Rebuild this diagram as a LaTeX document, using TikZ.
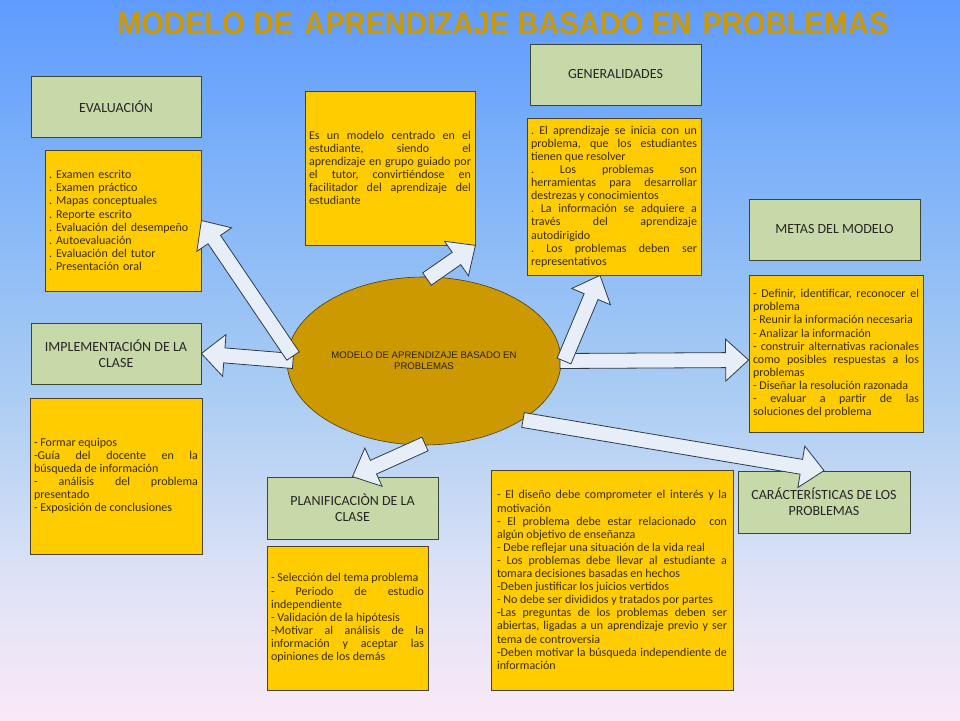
\documentclass[tikz,border=0pt]{standalone}
\usepackage{graphicx}
\usepackage{fontspec}
\setmainfont{Carlito}
\newfontfamily\arialf{Liberation Sans}
\usetikzlibrary{calc,shapes.geometric}
\setlength{\parindent}{0pt}
\frenchspacing
\definecolor{bg0}{HTML}{FAE9F7}
\definecolor{bg1}{HTML}{DDE2F6}
\definecolor{bg2}{HTML}{ABCDF3}
\definecolor{bg3}{HTML}{80B3F8}
\definecolor{bg4}{HTML}{5F9BFE}
\definecolor{titlec}{HTML}{CC9900}
\definecolor{gfill}{HTML}{C7D9A8}
\definecolor{gbord}{HTML}{3D4635}
\definecolor{gtext}{HTML}{262626}
\definecolor{yfill}{HTML}{FFCC00}
\definecolor{ybord}{HTML}{4A4228}
\definecolor{ytext}{HTML}{3A2E00}
\definecolor{ellfill}{HTML}{CC9900}
\definecolor{ellbord}{HTML}{4A3C10}
\definecolor{elltext}{HTML}{2A2200}
\definecolor{afill}{HTML}{E8EEF8}
\definecolor{abord}{HTML}{2C3A4E}
\pgfdeclareverticalshading{bgshade}{100bp}{color(0bp)=(bg0); color(25bp)=(bg0); color(35bp)=(bg1); color(47.5bp)=(bg2); color(62.5bp)=(bg3); color(75bp)=(bg4); color(100bp)=(bg4)}
\newcommand\bodyf{\fontsize{12}{13.1}\selectfont\frenchspacing\parindent=0pt\tolerance=10000\hyphenpenalty=10000\exhyphenpenalty=10000}
\newcommand\headf{\fontsize{14}{16}\selectfont}
\newcommand\blkarrow[2]{%
  \coordinate (bh) at ($(#2)!23pt!(#1)$);
  \draw[barrow] ($(#1)!7.5pt!90:(#2)$) -- ($(bh)!7.5pt!90:(#2)$) -- ($(bh)!21pt!90:(#2)$) -- (#2) -- ($(bh)!21pt!-90:(#2)$) -- ($(bh)!7.5pt!-90:(#2)$) -- ($(#1)!7.5pt!-90:(#2)$) -- cycle;}
\tikzset{
  ghead/.style={draw=gbord, fill=gfill, line width=0.8pt, align=center, text=gtext, font=\headf, inner sep=3pt},
  ybox/.style={draw=ybord, fill=yfill, line width=0.8pt, inner xsep=4pt, inner ysep=2pt, align=justify, text=ytext, font=\bodyf},
  barrow/.style={draw=abord, fill=afill, line width=0.8pt, line join=miter},
}
\begin{document}
\begin{tikzpicture}[x=1pt,y=-1pt]
\shade[shading=bgshade] (0,0) rectangle (960,720);
\useasboundingbox (0,0) rectangle (960,720);

\node[anchor=south west, inner sep=0pt, text=titlec] (title) at (117,35)
  {\resizebox{771pt}{22pt}{\arialf\bfseries MODELO DE\hspace{0.1em} APRENDIZAJE BASADO EN\hspace{0.1em} PROBLEMAS}};

% heading boxes
\node[ghead, minimum width=170pt, minimum height=61pt] (evalhead) at (116,106.5) {EVALUACIÓN};
\node[ghead, minimum width=170pt, minimum height=61pt] (implhead) at (116,353.5) {IMPLEMENTACIÓN DE LA\\CLASE};
\node[ghead, minimum width=171pt, minimum height=61pt] (genhead) at (615.5,74.5) {GENERALIDADES};
\node[ghead, minimum width=171pt, minimum height=61pt] (metahead) at (834.5,229.5) {METAS DEL MODELO};
\node[ghead, minimum width=172pt, minimum height=62pt] (carhead) at (824,502) {CARÁCTERÍSTICAS DE LOS\\PROBLEMAS};
\node[ghead, minimum width=171pt, minimum height=62pt] (planhead) at (352.5,508) {PLANIFICACIÒN DE LA\\CLASE};

% content boxes
\node[ybox, align=left, text width=148pt, minimum height=141pt] (evalbox) at (123,220.5)
  {. Examen escrito\par . Examen práctico\par . Mapas conceptuales\par . Reporte escrito\par . Evaluación del desempeño\par . Autoevaluación\par . Evaluación del tutor\par . Presentación oral};

\node[ybox, text width=164pt, minimum height=156pt] (implbox) at (116,476)
  {- Formar equipos\par -Guía del docente en la\linebreak búsqueda de información\par - análisis del problema\linebreak presentado\par - Exposición de conclusiones};

\node[ybox, text width=162pt, minimum height=154pt] (descbox) at (390,168)
  {Es un modelo centrado en el\linebreak estudiante, siendo el\linebreak aprendizaje en grupo guiado por\linebreak el tutor, convirtiéndose en\linebreak facilitador del aprendizaje del\linebreak estudiante};

\node[ybox, text width=166pt, minimum height=157pt] (genbox) at (614,196.5)
  {. El aprendizaje se inicia con un\linebreak problema, que los estudiantes\linebreak tienen que resolver\par . Los problemas son\linebreak herramientas para desarrollar\linebreak destrezas y conocimientos\par . La información se adquiere a\linebreak través del aprendizaje\linebreak autodirigido\par . Los problemas deben ser\linebreak representativos};

\node[ybox, text width=166pt, minimum height=157pt] (metabox) at (836,353.5)
  {- Definir, identificar, reconocer el\linebreak problema\par - Reunir la información necesaria\par - Analizar la información\par - construir alternativas racionales\linebreak como posibles respuestas a los\linebreak problemas\par - Diseñar la resolución razonada\par - evaluar a partir de las\linebreak soluciones del problema};

\node[ybox, inner xsep=6pt, text width=230pt, minimum height=220pt] (carbox) at (612,580)
  {- El diseño debe comprometer el interés y la\linebreak motivación\par - El problema debe estar relacionado\ \ con\linebreak algún objetivo de enseñanza\par - Debe reflejar una situación de la vida real\par - Los problemas debe llevar al estudiante a\linebreak tomara decisiones basadas en hechos\par -Deben justificar los juicios vertidos\par - No debe ser divididos y tratados por partes\par -Las preguntas de los problemas deben ser\linebreak abiertas, ligadas a un aprendizaje previo y ser\linebreak tema de controversia\par -Deben motivar la búsqueda independiente de\linebreak información};

\node[ybox, text width=153pt, minimum height=144pt] (planbox) at (347.5,618)
  {- Selección del tema problema\par - Periodo de estudio\linebreak independiente\par - Validación de la hipótesis\par -Motivar al análisis de la\linebreak información y aceptar las\linebreak opiniones de los demás};

% central ellipse
\node[ellipse, draw=ellbord, fill=ellfill, line width=0.6pt, minimum width=274pt, minimum height=168pt, inner sep=0pt, align=center, text=elltext, font={\arialf\fontsize{9.6}{11}\selectfont}] (ell) at (424,361)
  {MODELO DE APRENDIZAJE BASADO EN\\PROBLEMAS};

% arrow end points
\coordinate (t1) at (293,356);
\coordinate (t2) at (293,361);
\coordinate (t3) at (427,279);
\coordinate (t4) at (564,361);
\coordinate (t5) at (560,361);
\coordinate (t6) at (523,420);
\coordinate (t7) at (425,444);
\coordinate (p4) at ($(genbox.south west)!0.42!(genbox.south east)$);
\coordinate (p5) at ($(metabox.west)+(0,6.5)$);

\blkarrow{t2}{implhead.east}
\blkarrow{t1}{evalbox.east}
\blkarrow{t3}{descbox.south east}
\blkarrow{t5}{p5}
\blkarrow{t4}{p4}
\blkarrow{t6}{carhead.north}
\blkarrow{t7}{planhead.north}
\end{tikzpicture}
\end{document}
